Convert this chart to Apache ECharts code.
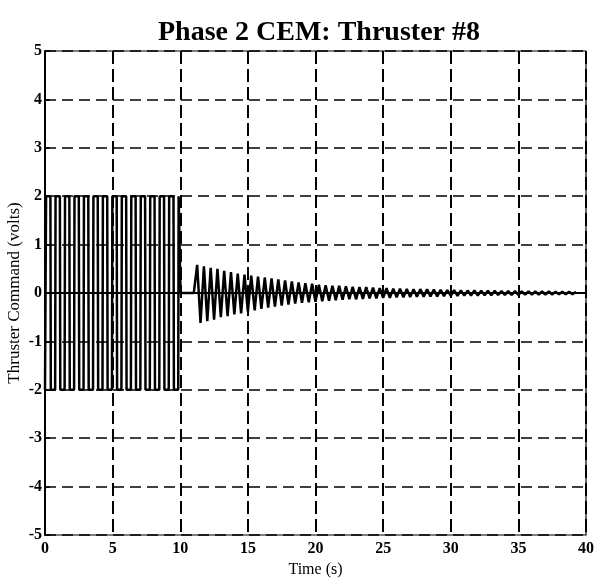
<!DOCTYPE html>
<html>
<head>
<meta charset="utf-8">
<script src="https://cdn.jsdelivr.net/npm/echarts@6/dist/echarts.min.js"></script>
<style>html,body{margin:0;padding:0;background:#fff}#c{width:598px;height:583px}</style>
</head>
<body>
<div id="c"></div>
<script>
// ---- data ----
var titleText = 'Phase 2 CEM: Thruster #8';
var xName = 'Time (s)';
var yName = 'Thruster Command (volts)';
var xTicks = [0, 5, 10, 15, 20, 25, 30, 35, 40];
var yTicks = [-5, -4, -3, -2, -1, 0, 1, 2, 3, 4, 5];

// square-wave phase (0-10 s): switching times and levels
var sqStart = [0, -2];
var sqEdges = [0.05, 0.40, 0.75, 1.10, 1.45, 1.80, 2.15, 2.50, 2.85, 3.20, 3.55, 3.90, 4.25, 4.60,
               4.95, 5.30, 5.65, 6.00, 6.35, 6.70, 7.05, 7.40, 7.75, 8.10, 8.45, 8.80, 9.15, 9.50, 9.85];
var sqLevels = [2, -2, 2, -2, 2, -2, 2, -2, 2, -2, 2, -2, 2, -2,
                2, -2, 2, -2, 2, -2, 2, -2, 2, -2, 2, -2, 2, -2, 2];
var sqEnd = [[10.0, 2], [10.02, 0], [11.0, 0]];

// damped phase (11-40 s): successive half-cycle peaks, 0.25 s apart
var dampStart = 11.0;
var dampStep = 0.25;
var dampPeaks = [
  0.58, -0.62, 0.55, -0.58, 0.52, -0.55, 0.50, -0.50, 0.46, -0.48, 0.43, -0.44, 0.40, -0.42, 0.38, -0.38,
  0.36, -0.36, 0.34, -0.33, 0.32, -0.30, 0.30, -0.28, 0.28, -0.26, 0.26, -0.24, 0.24, -0.22, 0.22, -0.20,
  0.20, -0.19, 0.19, -0.18, 0.17, -0.17, 0.16, -0.16, 0.15, -0.15, 0.15, -0.14, 0.14, -0.13, 0.13, -0.13,
  0.12, -0.12, 0.12, -0.11, 0.11, -0.11, 0.10, -0.10, 0.10, -0.10, 0.09, -0.09, 0.09, -0.09, 0.085, -0.085,
  0.08, -0.08, 0.08, -0.075, 0.075, -0.07, 0.07, -0.07, 0.065, -0.065, 0.06, -0.06, 0.06, -0.06, 0.055, -0.055,
  0.05, -0.05, 0.05, -0.05, 0.048, -0.048, 0.045, -0.045, 0.045, -0.042, 0.042, -0.04, 0.04, -0.04, 0.038, -0.038,
  0.035, -0.035, 0.035, -0.033, 0.033, -0.032, 0.03, -0.03, 0.03, -0.03, 0.028, -0.028, 0.027, -0.027, 0.025, -0.025,
  0.025
];

// ---- build series from the data ----
var pts = [sqStart];
var lvl = sqStart[1];
for (var i = 0; i < sqEdges.length; i++) {
  pts.push([sqEdges[i], lvl]);
  pts.push([sqEdges[i] + 0.03, sqLevels[i]]);
  lvl = sqLevels[i];
}
sqEnd.forEach(function (p) { pts.push(p); });
for (var j = 0; j < dampPeaks.length; j++) {
  pts.push([dampStart + dampStep * (j + 1), dampPeaks[j]]);
}

var serif = '"Liberation Serif","DejaVu Serif",serif';
var dashH = { color: '#000', width: 1.5, type: [11, 6] };
var dashV = { color: '#000', width: 2, type: [13, 5] };

var chart = echarts.init(document.getElementById('c'), null, { renderer: 'canvas' });
chart.setOption({
  animation: false,
  backgroundColor: '#fff',
  title: {
    text: titleText, left: 314, top: 14, textAlign: 'center',
    textStyle: { fontFamily: serif, fontSize: 28, fontWeight: 'bold', color: '#000' }
  },
  grid: { left: 45, right: 12, top: 51, bottom: 48, outerBoundsMode: 'none', containLabel: false,
          show: true, borderColor: '#000', borderWidth: 1.2, backgroundColor: 'transparent' },
  xAxis: {
    type: 'value', min: 0, max: 40, interval: 5,
    name: xName, nameLocation: 'middle', nameGap: 25,
    nameTextStyle: { fontFamily: serif, fontSize: 16, color: '#000' },
    axisLine: { lineStyle: { color: '#000', width: 2 } },
    axisTick: { inside: true, length: 5, lineStyle: { color: '#000', width: 1.5 } },
    axisLabel: { fontFamily: serif, fontSize: 16, fontWeight: 'bold', color: '#000', margin: 6 },
    splitLine: { show: true, lineStyle: dashV }
  },
  yAxis: {
    type: 'value', min: -5, max: 5, interval: 1,
    name: yName, nameLocation: 'middle', nameGap: 22, nameRotate: 90, nameMoveOverlap: false,
    nameTextStyle: { fontFamily: serif, fontSize: 17, color: '#000' },
    axisLine: { lineStyle: { color: '#000', width: 2 } },
    axisTick: { inside: true, length: 5, lineStyle: { color: '#000', width: 1.5 } },
    axisLabel: { fontFamily: serif, fontSize: 16, fontWeight: 'bold', color: '#000', margin: 3 },
    splitLine: { show: true, lineStyle: dashH }
  },
  series: [{
    type: 'line', data: pts, showSymbol: false, symbol: 'none',
    lineStyle: { color: '#000', width: 2.5 }, z: 5
  }]
});
</script>
</body>
</html>
